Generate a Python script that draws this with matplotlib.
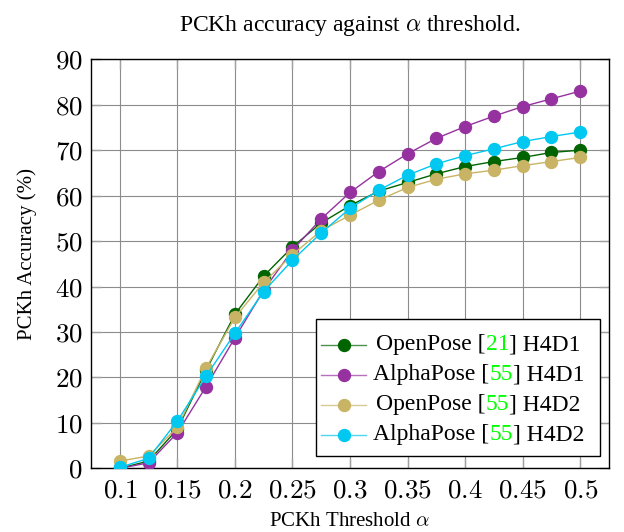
import matplotlib
matplotlib.use('Agg')
import matplotlib.pyplot as plt
from matplotlib.offsetbox import AnchoredOffsetbox, TextArea, HPacker, VPacker, DrawingArea
from matplotlib.lines import Line2D

plt.rcParams['font.family'] = ['Liberation Serif', 'DejaVu Serif']
plt.rcParams['mathtext.fontset'] = 'cm'

thresholds = [0.1, 0.125, 0.15, 0.175, 0.2, 0.225, 0.25, 0.275, 0.3,
              0.325, 0.35, 0.375, 0.4, 0.425, 0.45, 0.475, 0.5]
openpose_h4d1 = [0.0, 1.6, 8.6, 21.6, 33.9, 42.3, 48.7, 54.0, 57.8,
                 61.0, 62.9, 64.8, 66.4, 67.5, 68.4, 69.5, 70.0]
alphapose_h4d1 = [0.0, 1.2, 7.8, 18.0, 28.7, 39.2, 48.0, 54.9, 60.7,
                  65.3, 69.2, 72.6, 75.2, 77.5, 79.6, 81.3, 83.0]
openpose_h4d2 = [1.6, 2.7, 9.0, 22.1, 33.2, 40.9, 47.0, 52.3, 55.7,
                 59.0, 61.8, 63.6, 64.8, 65.6, 66.6, 67.5, 68.4]
alphapose_h4d2 = [0.2, 2.2, 10.4, 20.3, 29.7, 38.9, 45.8, 51.8, 57.2,
                  61.2, 64.5, 67.0, 68.8, 70.3, 71.9, 73.0, 74.0]

x_ticks = [0.1, 0.15, 0.2, 0.25, 0.3, 0.35, 0.4, 0.45, 0.5]
x_tick_labels = ['0.1', '0.15', '0.2', '0.25', '0.3', '0.35', '0.4', '0.45', '0.5']
y_ticks = [0, 10, 20, 30, 40, 50, 60, 70, 80, 90]
y_tick_labels = ['0', '10', '20', '30', '40', '50', '60', '70', '80', '90']

# (name, ref, dataset, values, colour)
series = [
    ('OpenPose', '21', 'H4D1', openpose_h4d1, '#006400'),
    ('AlphaPose', '55', 'H4D1', alphapose_h4d1, '#9632A0'),
    ('OpenPose', '55', 'H4D2', openpose_h4d2, '#C8B464'),
    ('AlphaPose', '55', 'H4D2', alphapose_h4d2, '#00C8F0'),
]
ref_color = '#00FF00'

fig = plt.figure(figsize=(6.24, 5.32), dpi=100)
ax = fig.add_axes([91/624, 1-468.3/532, (609-91)/624, (468.3-59.3)/532])

for name, ref, ds, vals, col in series:
    ax.plot(thresholds, vals, color=col, lw=1.0, marker='o', ms=8.6,
            mec=col, mfc=col, zorder=3)

ax.set_xlim(0.075, 0.525)
ax.set_ylim(0, 90)
ax.set_xticks(x_ticks)
ax.set_xticklabels(['$' + t + '$' for t in x_tick_labels])
ax.set_yticks(y_ticks)
ax.set_yticklabels(['$' + t + '$' for t in y_tick_labels])
ax.tick_params(direction='in', top=True, right=True, length=7, width=1,
               color='#a0a0a0', labelsize=19.5)
ax.tick_params(axis='x', pad=7)
ax.tick_params(axis='y', pad=6)
ax.grid(True, color='#8c8c8c', lw=0.8)
ax.set_axisbelow(True)
for s in ax.spines.values():
    s.set_linewidth(1.0)
    s.set_color('black')

ax.set_title(r'PCKh accuracy against $\alpha$ threshold.', fontsize=17, pad=20.6)
ax.set_xlabel(r'PCKh Threshold $\alpha$', fontsize=15)
ax.xaxis.set_label_coords(0.498, -0.129)
ax.xaxis.label.set_va('center')
ax.set_ylabel('PCKh Accuracy (%)', fontsize=15)
ax.yaxis.set_label_coords((27-91)/518, (468.3-254)/409)
ax.yaxis.label.set_va('center')

# custom legend with coloured references, text centred in its column
fs = 17
renderer = fig.canvas.get_renderer()
pt_per_px = 72.0 / fig.dpi
text_rows = []
widths = []
for name, ref, ds, vals, col in series:
    row = HPacker(children=[
        TextArea(name + ' [', textprops=dict(fontsize=fs, color='black')),
        TextArea(ref, textprops=dict(fontsize=fs, color=ref_color)),
        TextArea('] ' + ds, textprops=dict(fontsize=fs, color='black')),
    ], pad=0, sep=0, align='baseline')
    row.set_figure(fig)
    text_rows.append(row)
    widths.append(row.get_bbox(renderer).width * pt_per_px)
maxw = max(widths)

rows = [DrawingArea(1, 3, 0, 0)]
for (name, ref, ds, vals, col), trow, w in zip(series, text_rows, widths):
    da = DrawingArea(32.4, 20, 0, 0)
    da.add_artist(Line2D([0, 32.4], [10, 10], color=col, lw=1.0, alpha=0.7))
    da.add_artist(Line2D([16.2], [10], color=col, marker='o', ms=8.6, mec=col, mfc=col))
    extra = (maxw - w) / 2.0
    left = DrawingArea(5 + extra, 1, 0, 0)
    right = DrawingArea(8.1 + extra, 1, 0, 0)
    rows.append(HPacker(children=[da, left, trow, right], pad=0, sep=0, align='center'))
rows.append(DrawingArea(1, 0.1, 0, 0))

box = VPacker(children=rows, pad=0, sep=1.6, align='left')
anch = AnchoredOffsetbox(loc='lower right', child=box, pad=0.35, borderpad=0,
                         frameon=True, bbox_to_anchor=(0.983, 0.031),
                         bbox_transform=ax.transAxes)
anch.patch.set_edgecolor('black')
anch.patch.set_linewidth(1.0)
anch.patch.set_boxstyle('square', pad=0)
anch.zorder = 5
ax.add_artist(anch)

fig.savefig('out.png', dpi=100)
